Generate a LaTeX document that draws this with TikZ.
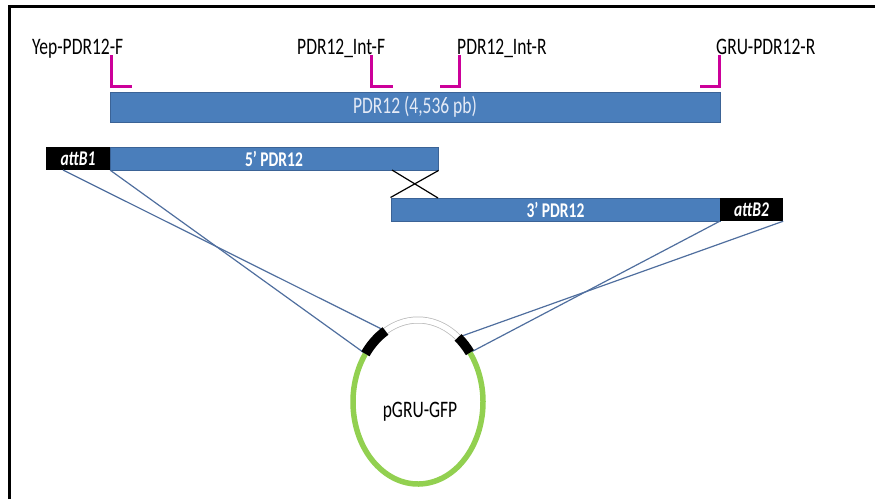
\documentclass[tikz,border=0pt]{standalone}
\usepackage{fontspec}
\setmainfont{Carlito}
\usepackage{graphicx}
\definecolor{barblue}{HTML}{4A7EBB}
\definecolor{barline}{HTML}{3B6396}
\definecolor{primer}{HTML}{CC0099}
\definecolor{link}{HTML}{4F6E9E}
\definecolor{ring}{HTML}{92D050}
\definecolor{bartext}{HTML}{E4EAF6}
\newcommand\tallt[1]{\scalebox{1}[1.35]{#1}}
\begin{document}
\begin{tikzpicture}[x=1pt,y=-1pt,
  bar/.style={draw=barline, line width=1pt, fill=barblue, inner sep=0pt, text=white,
    font=\fontsize{15.5}{16}\selectfont\bfseries},
  tag/.style={fill=black, inner sep=0pt, text=white,
    font=\fontsize{15.5}{16}\selectfont\bfseries\itshape},
  plabel/.style={anchor=base west, inner sep=0pt, font=\fontsize{17.5}{18}\selectfont},
  primerline/.style={draw=primer, line width=3pt, line join=miter},
  linkline/.style={draw=link, line width=1.2pt},
  crossline/.style={draw=black, line width=1.2pt},
  framerule/.style={draw=black, line width=3pt},
]
\useasboundingbox (0,0) rectangle (875,499);
% frame
\draw[framerule] (9,499) -- (9,6) -- (875,6);

% full gene
\node[bar, minimum width=610pt, minimum height=30pt,
  font=\fontsize{17.5}{18}\selectfont, text=bartext] (main) at (415,107) {\tallt{PDR12 (4,536 pb)}};

% primers
\draw[primerline] (111,55) -- (111,86.5) -- (132,86.5);
\draw[primerline] (371,55) -- (371,86.5) -- (393,86.5);
\draw[primerline] (459,55) -- (459,86.5) -- (440,86.5);
\draw[primerline] (719,55) -- (719,86.5) -- (700,86.5);
\node[plabel] (lyep) at (32,54) {\tallt{Yep-PDR12-F}};
\node[plabel] (lintf) at (297,54) {\tallt{PDR12\_Int-F}};
\node[plabel] (lintr) at (457,54) {\tallt{PDR12\_Int-R}};
\node[plabel] (lgru) at (716,54) {\tallt{GRU-PDR12-R}};

% fragments
\node[bar, minimum width=328pt, minimum height=23pt] (b5) at (274,158.5) {\tallt{5’ PDR12}};
\node[tag, minimum width=64pt, minimum height=23pt] (t1) at (78,158.5) {\tallt{attB1}};
\node[bar, minimum width=329pt, minimum height=23pt] (b3) at (555.5,209.5) {\tallt{3’ PDR12}};
\node[tag, minimum width=63pt, minimum height=23pt] (t2) at (751.5,209.5) {\tallt{attB2}};

% crossover
\coordinate (x1) at (392,170);
\coordinate (x2) at (438,198);
\draw[crossline] (b5.south east) -- (b3.north west);
\draw[crossline] (x1) -- (x2);

% plasmid reference points
\def\cx{418}\def\cy{402}
\path (\cx,\cy) ++(120:65pt and 82pt) coordinate (p1);
\path (\cx,\cy) ++(144:65pt and 82pt) coordinate (p2);
\path (\cx,\cy) ++(52:65pt and 82pt) coordinate (q1);
\path (\cx,\cy) ++(37:65pt and 82pt) coordinate (q2);
\coordinate (a1) at (63,170);

% recombination lines
\draw[linkline] (a1) -- (p1);
\draw[linkline] (t1.south east) -- (p2);
\draw[linkline] (t2.south west) -- (q2);
\draw[linkline] (t2.south east) -- (q1);

% plasmid
\draw[ring, line width=5.5pt] (p2) arc[start angle=144, end angle=397, x radius=65pt, y radius=82pt];
\draw[gray!55, line width=7pt] (q1) arc[start angle=52, end angle=120, x radius=65pt, y radius=82pt];
\draw[white, line width=5.5pt] (q1) arc[start angle=52, end angle=120, x radius=65pt, y radius=82pt];
\draw[black, line width=9.5pt] (p1) arc[start angle=120, end angle=144, x radius=65pt, y radius=82pt];
\draw[black, line width=9.5pt] (q2) arc[start angle=37, end angle=52, x radius=65pt, y radius=82pt];
\node[font=\fontsize{17.5}{18}\selectfont] (pl) at (420,412) {\tallt{pGRU-GFP}};
\end{tikzpicture}
\end{document}
